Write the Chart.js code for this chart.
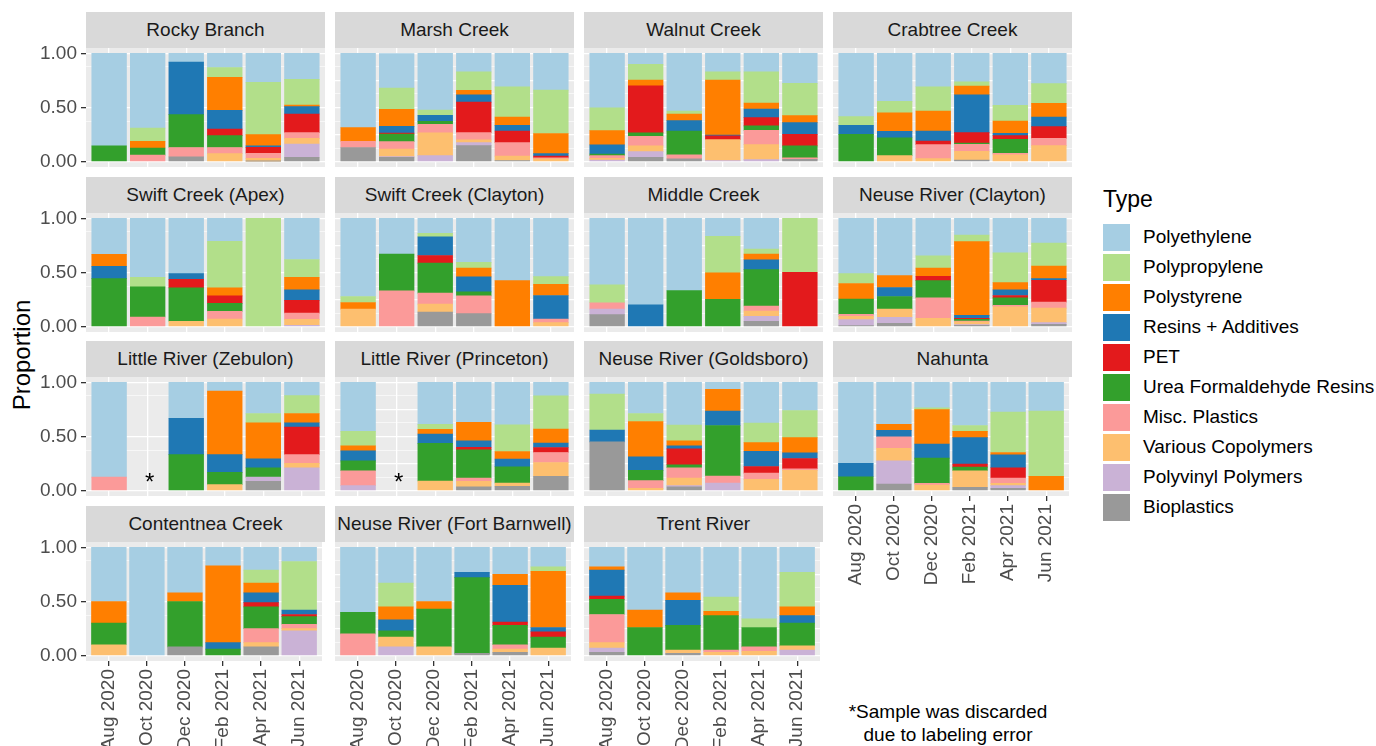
<!DOCTYPE html>
<html lang="en">
<head>
<meta charset="UTF-8">
<title>Plastic types by site</title>
<script src="https://cdn.jsdelivr.net/npm/chart.js"></script>
<style>
  body { margin: 0; background: #fff; font-family: "Liberation Sans", Arial, sans-serif; }
  #wrap { position: relative; width: 1376px; height: 746px; overflow: hidden; }
  .strip { position: absolute; width: 239px; height: 36px; line-height: 36px; background: #d9d9d9;
           color: #1a1a1a; font-size: 19px; text-align: center; white-space: nowrap; }
  canvas { position: absolute; }
  #ytitle { position: absolute; left: 22px; top: 355px; font-size: 24px; color: #000;
            transform: translate(-50%, -50%) rotate(-90deg); white-space: nowrap; }
  #legend { position: absolute; left: 1103px; top: 186px; }
  #legend .title { font-size: 23px; height: 36px; }
  #legend .row { display: flex; align-items: center; height: 30px; font-size: 19px; white-space: nowrap; }
  #legend .key { width: 27px; height: 27px; margin-right: 13px; flex: none; }
  #note { position: absolute; left: 838px; top: 700px; width: 220px; text-align: center;
          font-size: 19px; line-height: 23px; color: #000; }
</style>
</head>
<body>
<div id="wrap">
  <div id="ytitle">Proportion</div>
  <div id="legend"><div class="title">Type</div></div>
  <div id="note">*Sample was discarded<br>due to labeling error</div>
</div>
<script>
// categories
const months = ['Aug 2020', 'Oct 2020', 'Dec 2020', 'Feb 2021', 'Apr 2021', 'Jun 2021'];
const types = ['Polyethylene', 'Polypropylene', 'Polystyrene', 'Resins + Additives', 'PET',
  'Urea Formaldehyde Resins', 'Misc. Plastics', 'Various Copolymers', 'Polyvinyl Polymers', 'Bioplastics'];
const colors = ['#a6cee3', '#b2df8a', '#ff7f00', '#1f78b4', '#e31a1c',
  '#33a02c', '#fb9a99', '#fdbf6f', '#cab2d6', '#999999'];
const sites = ['Rocky Branch', 'Marsh Creek', 'Walnut Creek', 'Crabtree Creek',
  'Swift Creek (Apex)', 'Swift Creek (Clayton)', 'Middle Creek', 'Neuse River (Clayton)',
  'Little River (Zebulon)', 'Little River (Princeton)', 'Neuse River (Goldsboro)', 'Nahunta',
  'Contentnea Creek', 'Neuse River (Fort Barnwell)', 'Trent River'];
const yBreaks = [0, 0.25, 0.5, 0.75, 1];
const yMinor = [0.125, 0.375, 0.625, 0.875];

// one row per month, values in the order of `types`; null = sample discarded
const rockyBranch = [
  [.855, 0, 0, 0, 0, .145, 0, 0, 0, 0],
  [.69, .122, .062, 0, 0, .066, .06, 0, 0, 0],
  [.08, 0, 0, .486, 0, .304, .087, 0, 0, .043],
  [.13, .092, .304, .174, .06, .11, .056, .074, 0, 0],
  [.268, .482, .105, .013, .055, 0, .047, .025, 0, .005],
  [.24, .237, .015, .068, .172, 0, .053, .052, .123, .04]];
const marshCreek = [
  [.686, 0, .126, 0, 0, 0, .058, 0, 0, .13],
  [.32, .197, .157, .061, .01, .07, .068, .07, .006, .04],
  [.523, .049, 0, .056, 0, .027, .08, .21, .055, 0],
  [.17, .172, .04, .068, .282, 0, .068, .025, .027, .148],
  [.31, .278, .077, .052, .108, 0, .125, .04, 0, .01],
  [.34, .40, .186, .022, .018, 0, .009, .025, 0, 0]];
const walnutCreek = [
  [.502, .212, .132, .084, 0, .015, .025, .015, .015, 0],
  [.1, .146, .054, 0, .435, .031, .089, .053, .052, .04],
  [.532, .028, .062, .095, 0, .221, .037, 0, 0, .025],
  [.17, .076, .508, .009, .034, 0, 0, .193, .01, 0],
  [.17, .288, .056, .08, .076, .041, .132, .139, .018, 0],
  [.277, .298, .065, .108, .107, .111, .014, 0, 0, .02]];
const crabtreeCreek = [
  [.585, .08, 0, .083, 0, .252, 0, 0, 0, 0],
  [.443, .107, .17, .06, 0, .165, 0, .055, 0, 0],
  [.308, .224, .185, .093, .033, 0, .129, .028, 0, 0],
  [.262, .04, .08, .35, .096, .012, .065, .08, 0, .015],
  [.48, .145, .113, .022, .034, .129, .015, .062, 0, 0],
  [.28, .182, .126, .089, .108, 0, .067, .148, 0, 0]];
const swiftApex = [
  [.333, 0, .11, .114, 0, .443, 0, 0, 0, 0],
  [.544, .089, 0, 0, 0, .278, .089, 0, 0, 0],
  [.511, 0, 0, .052, .079, .309, 0, .049, 0, 0],
  [.211, .431, .074, 0, .07, .074, .07, .07, 0, 0],
  [0, 1, 0, 0, 0, 0, 0, 0, 0, 0],
  [.38, .164, .116, .098, .117, 0, .058, .055, .012, 0]];
const swiftClayton = [
  [.722, .055, .061, 0, 0, 0, 0, .162, 0, 0],
  [.33, 0, 0, 0, 0, .34, .33, 0, 0, 0],
  [.138, .033, 0, .172, .07, .278, .101, .073, 0, .135],
  [.407, .052, .082, .138, 0, .037, .164, 0, 0, .12],
  [.575, 0, .425, 0, 0, 0, 0, 0, 0, 0],
  [.538, .071, .104, .217, 0, 0, .033, .037, 0, 0]];
const middleCreek = [
  [.615, .165, 0, 0, 0, 0, .058, 0, .052, .11],
  [.798, 0, 0, .202, 0, 0, 0, 0, 0, 0],
  [.667, 0, 0, 0, 0, .333, 0, 0, 0, 0],
  [.165, .337, .247, 0, 0, .251, 0, 0, 0, 0],
  [.284, .046, .052, .092, 0, .336, .046, .049, .046, .049],
  [0, .498, 0, 0, .502, 0, 0, 0, 0, 0]];
const neuseClayton = [
  [.511, .091, .144, 0, 0, .141, .018, .031, .054, .01],
  [.529, 0, .11, .083, 0, .116, 0, .076, .056, .03],
  [.346, .113, .076, 0, .04, .159, .19, .076, 0, 0],
  [.153, .061, .682, .028, .009, .015, .009, .025, .006, .012],
  [.318, .275, .068, .052, .021, .07, .013, .183, 0, 0],
  [.229, .211, .117, .015, .202, 0, .055, .134, .017, .02]];
const littleZebulon = [
  [.875, 0, 0, 0, 0, 0, .125, 0, 0, 0],
  null,
  [.333, 0, 0, .334, 0, .333, 0, 0, 0, 0],
  [.08, 0, .587, .165, 0, .113, 0, .055, 0, 0],
  [.287, .086, .333, .083, 0, .086, 0, 0, .039, .086],
  [.122, .165, .086, .04, .254, 0, .082, .04, .211, 0]];
const littlePrinceton = [
  [.453, .134, .046, .092, 0, .092, .137, 0, .046, 0],
  null,
  [.388, .046, .043, .086, 0, .348, 0, .089, 0, 0],
  [.37, 0, .171, .058, .025, .26, .03, .052, 0, .034],
  [.391, .248, .07, .071, 0, .15, 0, .03, 0, .04],
  [.125, .306, .129, .042, .046, 0, .092, .129, 0, .131]];
const neuseGoldsboro = [
  [.107, .333, 0, .11, 0, 0, 0, 0, 0, .45],
  [.287, .074, .327, .125, 0, .095, .071, .021, 0, 0],
  [.394, .147, .046, .028, .146, .028, .095, .07, .012, .034],
  [.064, 0, .202, .132, 0, .467, .065, 0, .07, 0],
  [.376, .181, .079, .141, .061, 0, .058, .104, 0, 0],
  [.26, .251, .14, .052, .095, 0, .015, .187, 0, 0]];
const nahunta = [
  [.749, 0, 0, .123, 0, .128, 0, 0, 0, 0],
  [.388, 0, .055, .059, 0, 0, .107, .116, .214, .061],
  [.235, .016, .318, .131, 0, .233, .015, .052, 0, 0],
  [.398, .055, .058, .244, .028, .034, 0, .152, 0, .031],
  [.275, .373, .022, .119, .095, 0, .049, .021, .025, .021],
  [.266, .603, .131, 0, 0, 0, 0, 0, 0, 0]];
const contentneaCreek = [
  [.5, 0, .2, 0, 0, .2, 0, .1, 0, 0],
  [1, 0, 0, 0, 0, 0, 0, 0, 0, 0],
  [.42, 0, .08, 0, 0, .42, 0, 0, 0, .08],
  [.17, 0, .71, .06, 0, .06, 0, 0, 0, 0],
  [.21, .12, .09, .09, .04, .2, .13, .04, 0, .08],
  [.13, .45, 0, .04, .02, .07, .04, .02, .23, 0]];
const neuseFortBarnwell = [
  [.6, 0, 0, 0, 0, .2, .2, 0, 0, 0],
  [.33, .22, .12, .1, 0, .06, 0, .09, .08, 0],
  [.5, 0, .07, 0, 0, .35, 0, .08, 0, 0],
  [.23, 0, 0, .05, 0, .70, 0, 0, 0, .02],
  [.25, 0, .1, .34, .03, .18, .04, .03, 0, .03],
  [.18, .04, .52, .04, .05, .10, 0, .07, 0, 0]];
const trentRiver = [
  [.18, 0, .03, .24, .03, .14, .26, .05, .04, .03],
  [.58, 0, .16, 0, 0, .26, 0, 0, 0, 0],
  [.42, 0, .07, .23, 0, .23, 0, .03, 0, .02],
  [.46, .13, .04, 0, 0, .32, .02, .03, 0, 0],
  [.66, .08, 0, 0, 0, .18, .04, .04, 0, 0],
  [.23, .32, .08, .07, 0, .21, 0, .04, .05, 0]];

const siteData = [rockyBranch, marshCreek, walnutCreek, crabtreeCreek,
  swiftApex, swiftClayton, middleCreek, neuseClayton,
  littleZebulon, littlePrinceton, neuseGoldsboro, nahunta,
  contentneaCreek, neuseFortBarnwell, trentRiver];

// layout
const colLeft = [86, 335, 584, 833];
const rowTop = [48, 212.5, 377, 541.5];
const plotW = 239, plotH = 119, stripH = 36, pad = 20, xAxisH = 110;
const barW = plotW / 6.2 * 0.9;

Chart.defaults.font.family = '"Liberation Sans", Arial, sans-serif';
Chart.defaults.font.size = 19;

const panelBg = {
  id: 'panelBg',
  beforeDraw(chart) {
    const { ctx, chartArea: a } = chart;
    ctx.save();
    ctx.fillStyle = '#ebebeb';
    ctx.fillRect(a.left, a.top, a.width, a.height);
    ctx.restore();
  }
};

const wrap = document.getElementById('wrap');

sites.forEach((name, i) => {
  const r = Math.floor(i / 4), c = i % 4;
  const bars = siteData[i];
  const left = c === 0;
  const bottom = r === 3 || (r === 2 && c === 3);

  const strip = document.createElement('div');
  strip.className = 'strip';
  strip.textContent = name;
  strip.style.left = colLeft[c] + 'px';
  strip.style.top = (rowTop[r] - stripH) + 'px';
  wrap.appendChild(strip);

  const cx = left ? 0 : colLeft[c];
  const w = colLeft[c] + plotW - cx;
  const h = pad + plotH + (bottom ? xAxisH : pad);
  const cv = document.createElement('canvas');
  cv.width = w; cv.height = h;
  cv.style.left = cx + 'px';
  cv.style.top = (rowTop[r] - pad) + 'px';
  cv.style.width = w + 'px';
  cv.style.height = h + 'px';
  wrap.appendChild(cv);
  const yAxisW = colLeft[c] - cx;

  // stack from the bottom: Bioplastics first; empty segments are skipped
  const datasets = types.map((t, k) => ({
    label: t,
    data: bars.map((b, j) => ({ x: j + 1, y: b && b[k] ? b[k] : null })),
    backgroundColor: colors[k],
    borderWidth: 0,
    barThickness: barW
  })).reverse();

  const discardMark = {
    id: 'discardMark',
    afterDatasetsDraw(chart) {
      const { ctx, scales } = chart;
      bars.forEach((b, j) => {
        if (b) return;
        ctx.save();
        ctx.fillStyle = '#000';
        ctx.font = '24px "Liberation Sans", Arial, sans-serif';
        ctx.textAlign = 'center';
        ctx.textBaseline = 'middle';
        ctx.fillText('*', scales.x.getPixelForValue(j + 1) + 2, scales.y.getPixelForValue(0.065));
        ctx.restore();
      });
    }
  };

  new Chart(cv, {
    type: 'bar',
    data: { datasets },
    plugins: [panelBg, discardMark],
    options: {
      responsive: false,
      animation: false,
      events: [],
      layout: { padding: { top: pad, bottom: bottom ? 0 : pad, left: 0, right: 0 } },
      plugins: { legend: { display: false }, tooltip: { enabled: false } },
      scales: {
        x: {
          type: 'linear', min: 0.4, max: 6.6, stacked: true, offset: false,
          afterBuildTicks: s => { s.ticks = months.map((m, j) => ({ value: j + 1 })); },
          afterFit: s => { s.height = bottom ? xAxisH : 0; },
          grid: { color: '#ffffff', lineWidth: 1.3, drawTicks: bottom, tickLength: 5,
                  tickColor: '#333333', offset: false },
          border: { display: false },
          ticks: { display: bottom, minRotation: 90, maxRotation: 90, autoSkip: false,
                   padding: 3, color: '#4d4d4d', callback: v => months[v - 1] }
        },
        y: {
          min: -0.05, max: 1.05, stacked: true,
          afterBuildTicks: s => { s.ticks = yBreaks.concat(yMinor).map(v => ({ value: v })); },
          afterFit: s => { s.width = yAxisW; },
          grid: {
            color: '#ffffff',
            lineWidth: ctx => yBreaks.includes(ctx.tick.value) ? 1.3 : 0.6,
            drawTicks: left, tickLength: 5,
            tickColor: ctx => yBreaks.includes(ctx.tick.value) ? '#333333' : 'rgba(0,0,0,0)'
          },
          border: { display: false },
          ticks: { display: left, padding: 4, color: '#4d4d4d',
                   callback: v => yBreaks.includes(v) ? v.toFixed(2) : '' }
        }
      }
    }
  });
});

// legend
const legend = document.getElementById('legend');
types.forEach((t, k) => {
  const row = document.createElement('div');
  row.className = 'row';
  const key = document.createElement('div');
  key.className = 'key';
  key.style.background = colors[k];
  row.appendChild(key);
  row.appendChild(document.createTextNode(t));
  legend.appendChild(row);
});
</script>
</body>
</html>
